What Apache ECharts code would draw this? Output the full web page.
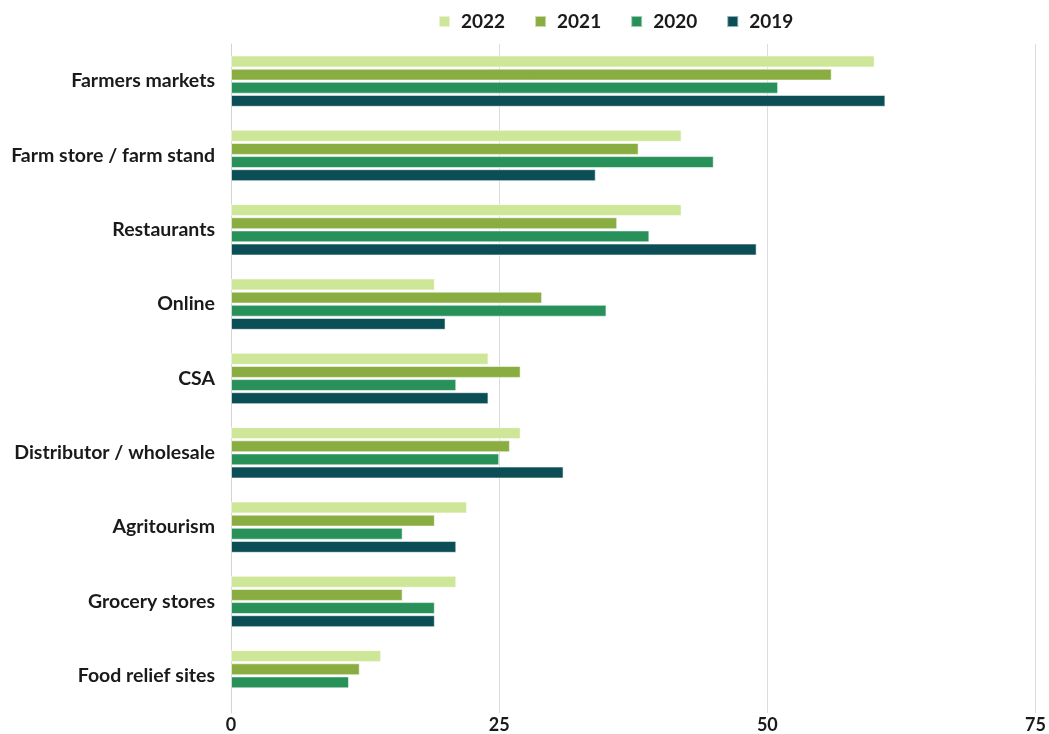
<!DOCTYPE html>
<html>
<head>
<meta charset="utf-8">
<script src="https://cdn.jsdelivr.net/npm/echarts@6/dist/echarts.min.js"></script>
<style>
  html, body { margin: 0; padding: 0; background: #ffffff; }
  #chart { width: 1049px; height: 734px; }
</style>
</head>
<body>
<div id="chart"></div>
<script>
// Sales channels used by farms, share of respondents by year
const categories = [
  'Farmers markets',
  'Farm store / farm stand',
  'Restaurants',
  'Online',
  'CSA',
  'Distributor / wholesale',
  'Agritourism',
  'Grocery stores',
  'Food relief sites'
];
const years = ['2022', '2021', '2020', '2019'];
const values2022 = [60, 42, 42, 19, 24, 27, 22, 21, 14];
const values2021 = [56, 38, 36, 29, 27, 26, 19, 16, 12];
const values2020 = [51, 45, 39, 35, 21, 25, 16, 19, 11];
const values2019 = [61, 34, 49, 20, 24, 31, 21, 19, null];
const xTicks = [0, 25, 50, 75];

const colors = ['#cde697', '#8aad42', '#28915a', '#0b4e55'];
const seriesValues = [values2022, values2021, values2020, values2019];

const chart = echarts.init(document.getElementById('chart'), null, { renderer: 'canvas' });

const labelFont = 'Lato, "Open Sans", sans-serif';

chart.setOption({
  animation: false,
  color: colors,
  legend: {
    top: 7,
    left: 433,
    itemWidth: 11,
    itemHeight: 11,
    itemGap: 29,
    icon: 'rect',
    textStyle: {
      fontFamily: labelFont,
      fontWeight: 'bold',
      fontSize: 19,
      color: '#1a1a1a',
      padding: [0, 0, 0, 6]
    },
    data: years
  },
  grid: {
    left: 231,
    right: 13,
    top: 44,
    bottom: 15,
    containLabel: false
  },
  xAxis: {
    type: 'value',
    min: xTicks[0],
    max: xTicks[xTicks.length - 1],
    interval: 25,
    axisLine: { show: false },
    axisTick: { show: false },
    splitLine: { lineStyle: { color: '#dcdcdc', width: 1 } },
    axisLabel: {
      fontFamily: labelFont,
      fontWeight: 'bold',
      fontSize: 18,
      color: '#1a1a1a',
      margin: 3
    }
  },
  yAxis: {
    type: 'category',
    inverse: true,
    data: categories,
    axisLine: { show: true, lineStyle: { color: '#d4d4d4', width: 1 } },
    axisTick: { show: false },
    axisLabel: {
      fontFamily: labelFont,
      fontWeight: 'bold',
      fontSize: 19.5,
      color: '#1a1a1a',
      margin: 16
    }
  },
  series: years.map((y, i) => ({
    name: y,
    type: 'bar',
    data: seriesValues[i],
    barCategoryGap: '31%',
    barGap: '10%',
    itemStyle: {
      color: colors[i],
      borderColor: 'rgba(255,255,255,0.55)',
      borderWidth: 1
    }
  }))
});
</script>
</body>
</html>
